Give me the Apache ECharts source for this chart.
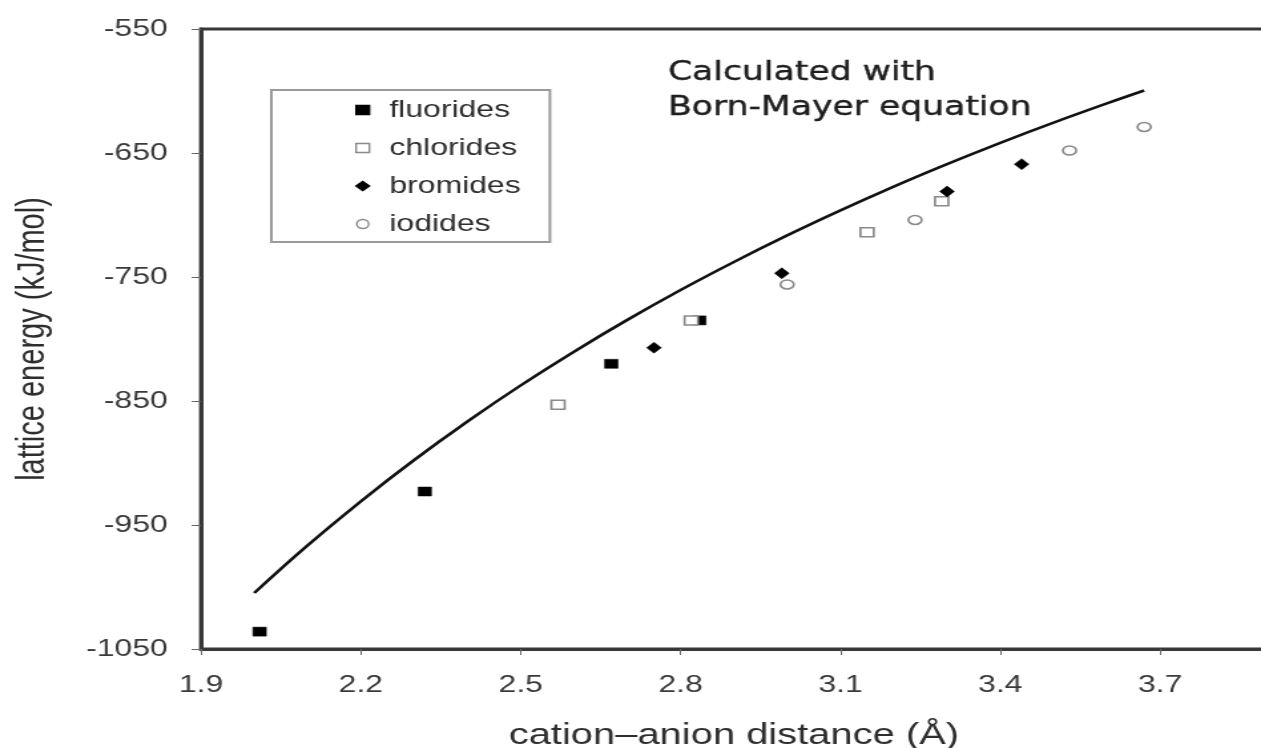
<!DOCTYPE html>
<html>
<head>
<meta charset="utf-8">
<script src="https://cdn.jsdelivr.net/npm/echarts@6/dist/echarts.min.js"></script>
<style>
  html, body { margin: 0; padding: 0; background: #fff; overflow: hidden; }
  /* the chart is laid out narrow and widened horizontally as a whole */
  #chart { width: 948px; height: 748px; transform: scaleX(1.3302); transform-origin: 0 0; }
</style>
</head>
<body>
<div id="chart"></div>
<script>
// Measured lattice energies (kJ/mol) against cation–anion distance (Å)
const fluorideX = [2.01, 2.32, 2.67, 2.835];
const fluorideY = [-1036, -923, -820, -785];
const chlorideX = [2.57, 2.82, 3.15, 3.29];
const chlorideY = [-853, -785, -714, -689];
const bromideX = [2.75, 2.99, 3.30, 3.44];
const bromideY = [-807, -747, -681, -659];
const iodideX = [3.00, 3.24, 3.53, 3.67];
const iodideY = [-756, -704, -648, -629];

// Born-Mayer curve
const bmX = [2.0, 2.1, 2.2, 2.3, 2.4, 2.5, 2.6, 2.7, 2.8, 2.9, 3.0, 3.1, 3.2, 3.3, 3.4, 3.5, 3.6, 3.67];
const bmY = [-1004.8, -966.5, -930.9, -897.6, -866.5, -837.4, -810.2, -784.6, -760.5, -737.9,
             -716.5, -696.3, -677.1, -659.0, -641.8, -625.5, -610.0, -599.6];

// Axis tick labels
const xTicks = [1.9, 2.2, 2.5, 2.8, 3.1, 3.4, 3.7];
const yTicks = [-1050, -950, -850, -750, -650, -550];

const pairs = (xs, ys) => xs.map((x, i) => [x, ys[i]]);

const FONT = '"Liberation Sans", Arial, sans-serif';
const AXIS_COLOR = '#383838';
const OPEN_COLOR = '#8a8a8a';

const chart = echarts.init(document.getElementById('chart'));
chart.setOption({
  animation: false,
  backgroundColor: '#fff',
  grid: {
    left: 151.1, top: 29, width: 801.2, height: 620,
    outerBoundsMode: 'none', containLabel: false,
    show: true, borderColor: AXIS_COLOR, borderWidth: 3
  },
  graphic: [{
    type: 'text',
    left: 502, top: 56,
    style: {
      text: 'Calculated with\nBorn-Mayer equation',
      font: '26px "DejaVu Sans", sans-serif',
      lineHeight: 35,
      fill: '#1e1e1e',
      stroke: '#1e1e1e',
      lineWidth: 0.4
    }
  }],
  legend: {
    orient: 'vertical',
    left: 204, top: 90,
    padding: [8, 22, 6, 63],
    backgroundColor: '#fff',
    borderColor: '#9a9a9a', borderWidth: 2,
    itemWidth: 10, itemHeight: 9, itemGap: 14,
    itemStyle: { borderWidth: 1.4 },
    textStyle: { fontFamily: FONT, fontSize: 24, lineHeight: 24, color: '#2e2e2e', padding: [0, 0, 0, 10] },
    data: ['fluorides', 'chlorides', 'bromides', 'iodides']
  },
  xAxis: {
    type: 'value', min: 1.9, max: 3.9,
    name: 'cation–anion distance (Å)', nameLocation: 'middle', nameGap: 72,
    nameTextStyle: { fontFamily: FONT, fontSize: 30, color: '#2e2e2e' },
    axisLine: { lineStyle: { color: AXIS_COLOR, width: 3 } },
    axisTick: { show: true, length: 6, customValues: xTicks, lineStyle: { color: '#666', width: 1 } },
    axisLabel: { customValues: xTicks, margin: 24, fontFamily: FONT, fontSize: 24, color: '#3a3a3a',
                 formatter: v => v.toFixed(1) },
    splitLine: { show: false }
  },
  yAxis: {
    type: 'value', min: -1050, max: -550,
    name: 'lattice energy (kJ/mol)', nameLocation: 'middle', nameGap: 112,
    nameTextStyle: { fontFamily: FONT, fontSize: 29, color: '#2e2e2e' },
    axisLine: { lineStyle: { color: AXIS_COLOR, width: 3 } },
    axisTick: { show: true, length: 7, customValues: yTicks, lineStyle: { color: '#666', width: 1 } },
    axisLabel: { customValues: yTicks, margin: 25, fontFamily: FONT, fontSize: 24, color: '#3a3a3a',
                 formatter: v => String(v) },
    splitLine: { show: false }
  },
  series: [
    {
      name: 'Born-Mayer', type: 'line', data: pairs(bmX, bmY),
      smooth: 0.4, showSymbol: false, symbol: 'none',
      lineStyle: { color: '#111', width: 2.6 }, z: 2
    },
    {
      name: 'fluorides', type: 'scatter', data: pairs(fluorideX, fluorideY),
      symbol: 'rect', symbolSize: [10, 9],
      itemStyle: { color: '#000', borderColor: '#000', borderWidth: 0.5, opacity: 1 }, z: 3
    },
    {
      name: 'chlorides', type: 'scatter', data: pairs(chlorideX, chlorideY),
      symbol: 'rect', symbolSize: [10, 9],
      itemStyle: { color: '#fff', borderColor: OPEN_COLOR, borderWidth: 1.6, opacity: 1 }, z: 3
    },
    {
      name: 'bromides', type: 'scatter', data: pairs(bromideX, bromideY),
      symbol: 'diamond', symbolSize: [11, 11],
      itemStyle: { color: '#000', borderColor: '#000', borderWidth: 0.5, opacity: 1 }, z: 4
    },
    {
      name: 'iodides', type: 'scatter', data: pairs(iodideX, iodideY),
      symbol: 'circle', symbolSize: [10, 9],
      itemStyle: { color: '#fff', borderColor: OPEN_COLOR, borderWidth: 1.6, opacity: 1 }, z: 3
    }
  ]
});
</script>
</body>
</html>
